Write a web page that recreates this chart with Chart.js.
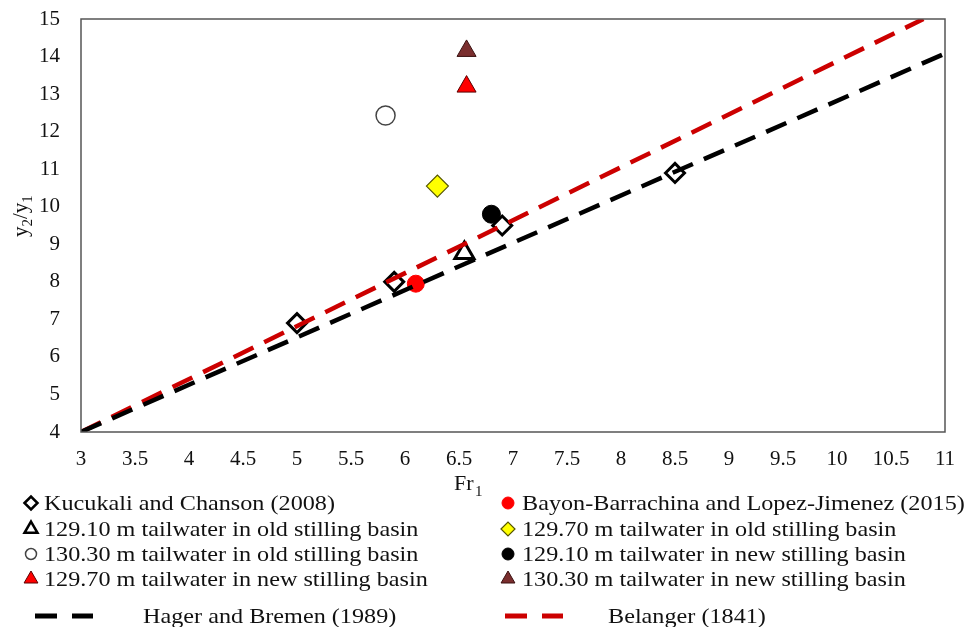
<!DOCTYPE html>
<html>
<head>
<meta charset="utf-8">
<script src="https://cdn.jsdelivr.net/npm/chart.js@4"></script>
<style>
  html, body { margin: 0; padding: 0; background: #fff; }
</style>
</head>
<body>
<canvas id="jump" width="970" height="627"></canvas>
<script>
// Fr1 / y2/y1 values
const kucukaliFr = [5.0, 5.9, 6.9, 8.5];
const kucukaliY = [6.9, 8.0, 9.5, 10.9];
const bayonFr = [6.1];
const bayonY = [7.95];
const old12910Fr = [6.55];
const old12910Y = [8.77];
const old12970Fr = [6.3];
const old12970Y = [10.55];
const old13030Fr = [5.82];
const old13030Y = [12.43];
const new12910Fr = [6.8];
const new12910Y = [9.8];
const new12970Fr = [6.57];
const new12970Y = [13.2];
const new13030Fr = [6.57];
const new13030Y = [14.15];
const hagerFr = [3, 11];
const hagerY = [4, 14.08];
const belangerFr = [3, 10.8];
const belangerY = [4, 15];

const xTicks = [3, 3.5, 4, 4.5, 5, 5.5, 6, 6.5, 7, 7.5, 8, 8.5, 9, 9.5, 10, 10.5, 11];
const yTicks = [4, 5, 6, 7, 8, 9, 10, 11, 12, 13, 14, 15];

const pts = (xs, ys) => xs.map((x, i) => ({ x: x, y: ys[i] }));
const serif = "'Liberation Serif', 'DejaVu Serif', serif";

const datasets = [
    { label: 'Kucukali and Chanson (2008)', data: pts(kucukaliFr, kucukaliY),
      pointStyle: 'rectRot', pointRadius: 9.5, backgroundColor: '#fff', borderColor: '#000', borderWidth: 3, order: 2,
      legendRadius: 6.5 },
    { label: 'Bayon-Barrachina and Lopez-Jimenez (2015)', data: pts(bayonFr, bayonY),
      pointStyle: 'circle', pointRadius: 8.5, backgroundColor: '#ff0000', borderColor: '#ff0000', borderWidth: 1, order: 2,
      legendRadius: 6 },
    { label: '129.10 m tailwater in old stilling basin', data: pts(old12910Fr, old12910Y),
      pointStyle: 'triangle', pointRadius: 11, backgroundColor: '#fff', borderColor: '#000', borderWidth: 3, order: 2,
      legendRadius: 7.5 },
    { label: '129.70 m tailwater in old stilling basin', data: pts(old12970Fr, old12970Y),
      pointStyle: 'rectRot', pointRadius: 11, backgroundColor: '#ffff00', borderColor: '#555500', borderWidth: 1.2, order: 0,
      legendRadius: 7 },
    { label: '130.30 m tailwater in old stilling basin', data: pts(old13030Fr, old13030Y),
      pointStyle: 'circle', pointRadius: 9.5, backgroundColor: '#fff', borderColor: '#444', borderWidth: 1.5, order: 0,
      legendRadius: 5.5 },
    { label: '129.10 m tailwater in new stilling basin', data: pts(new12910Fr, new12910Y),
      pointStyle: 'circle', pointRadius: 9, backgroundColor: '#000', borderColor: '#000', borderWidth: 1, order: 0,
      legendRadius: 6 },
    { label: '129.70 m tailwater in new stilling basin', data: pts(new12970Fr, new12970Y),
      pointStyle: 'triangle', pointRadius: 11, backgroundColor: '#ff0000', borderColor: '#5a0000', borderWidth: 1, order: 0,
      legendRadius: 8 },
    { label: '130.30 m tailwater in new stilling basin', data: pts(new13030Fr, new13030Y),
      pointStyle: 'triangle', pointRadius: 11, backgroundColor: '#7a2e2e', borderColor: '#3a1010', borderWidth: 1, order: 0,
      legendRadius: 8 },
    { label: 'Hager and Bremen (1989)', data: pts(hagerFr, hagerY), showLine: true,
      pointRadius: 0, borderColor: '#000', borderWidth: 4.5, borderDash: [22, 12], order: 1 },
    { label: 'Belanger (1841)', data: pts(belangerFr, belangerY), showLine: true,
      pointRadius: 0, borderColor: '#cc0000', borderWidth: 4.5, borderDash: [22, 12], order: 1 }
];

// text that is a bit wider than the font, like the source figure
function wideText(ctx, txt, x, y, sx) {
    ctx.save();
    ctx.translate(x, y);
    ctx.scale(sx, 1);
    ctx.fillText(txt, 0, 0);
    ctx.restore();
}

// box, axis titles with subscripts, two-column legend
const decor = {
    id: 'decor',
    afterDraw(chart) {
        const ctx = chart.ctx;
        const a = chart.chartArea;
        ctx.save();
        ctx.strokeStyle = '#555';
        ctx.lineWidth = 1.5;
        ctx.strokeRect(a.left, a.top, a.right - a.left, a.bottom - a.top);

        ctx.fillStyle = '#111';
        ctx.textBaseline = 'alphabetic';
        // x title Fr1
        ctx.font = '22px ' + serif;
        ctx.textAlign = 'left';
        ctx.fillText('Fr', 454, 490);
        ctx.font = '15px ' + serif;
        ctx.fillText('1', 475, 496);

        // y title y2/y1
        ctx.save();
        ctx.translate(27, 237);
        ctx.rotate(-Math.PI / 2);
        ctx.font = '21px ' + serif;
        ctx.fillText('y', 0, 0);
        let w = ctx.measureText('y').width;
        ctx.font = '15px ' + serif;
        ctx.fillText('2', w, 5);
        w += ctx.measureText('2').width;
        ctx.font = '21px ' + serif;
        ctx.fillText('/y', w, 0);
        w += ctx.measureText('/y').width;
        ctx.font = '15px ' + serif;
        ctx.fillText('1', w, 5);
        ctx.restore();

        // legend
        const cols = [{ mx: 31, tx: 44, lx: 35, ltx: 143 }, { mx: 508, tx: 522, lx: 505, ltx: 608 }];
        const rows = [503, 529, 554, 579];
        ctx.font = '22px ' + serif;
        ctx.textBaseline = 'middle';
        datasets.forEach((ds, i) => {
            const col = cols[i % 2];
            const r = Math.floor(i / 2);
            if (ds.showLine) {
                const y = 616;
                ctx.strokeStyle = ds.borderColor;
                ctx.lineWidth = 5;
                ctx.beginPath();
                ctx.moveTo(col.lx, y); ctx.lineTo(col.lx + 22, y);
                ctx.moveTo(col.lx + 37, y); ctx.lineTo(col.lx + 58, y);
                ctx.stroke();
                ctx.fillStyle = '#111';
                wideText(ctx, ds.label, col.ltx, y + 1, 1.1);
            } else {
                const y = rows[r];
                ctx.fillStyle = ds.backgroundColor;
                ctx.strokeStyle = ds.borderColor;
                ctx.lineWidth = Math.min(ds.borderWidth, 2.5);
                Chart.helpers.drawPoint(ctx, { pointStyle: ds.pointStyle, radius: ds.legendRadius, rotation: 0, borderWidth: ctx.lineWidth }, col.mx, y);
                ctx.fillStyle = '#111';
                wideText(ctx, ds.label, col.tx, y + 1, 1.1);
            }
        });
        ctx.restore();
    }
};

new Chart(document.getElementById('jump'), {
    type: 'scatter',
    data: { datasets: datasets },
    options: {
        responsive: false,
        animation: false,
        layout: { padding: { top: 19, right: 25, left: 0, bottom: 0 } },
        plugins: { legend: { display: false }, tooltip: { enabled: false } },
        scales: {
            x: {
                type: 'linear', min: 3, max: 11,
                afterBuildTicks: (s) => { s.ticks = xTicks.map(v => ({ value: v })); },
                afterFit: (s) => { s.height = 195; s.paddingLeft = 0; s.paddingRight = 0; },
                grid: { display: false, drawTicks: false },
                border: { display: false },
                ticks: { color: '#111', padding: 15, maxRotation: 0, autoSkip: false,
                         callback: (v) => String(v),
                         font: { family: serif, size: 21 } }
            },
            y: {
                type: 'linear', min: 4, max: 15,
                afterBuildTicks: (s) => { s.ticks = yTicks.map(v => ({ value: v })); },
                afterFit: (s) => { s.width = 81; s.paddingTop = 0; s.paddingBottom = 0; },
                grid: { display: false, drawTicks: false },
                border: { display: false },
                ticks: { color: '#111', padding: 21, font: { family: serif, size: 21 } }
            }
        }
    },
    plugins: [decor]
});
</script>
</body>
</html>
